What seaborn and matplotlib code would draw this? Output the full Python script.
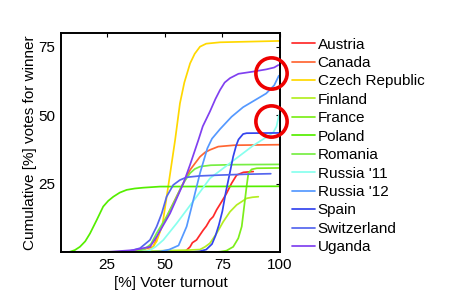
import numpy as np
import pandas as pd
import matplotlib
matplotlib.use("Agg")
import matplotlib.pyplot as plt
import seaborn as sns

# curves: turnout (%) vs cumulative votes for winner (%)
austria_x = [58.5, 59.5, 61, 62, 63.8, 65, 66.7, 68, 69.6, 71, 72.5, 74.7, 76.8, 79, 81.2, 84.1, 88.4]
austria_y = [0, 0.8, 2, 3.5, 4.5, 6, 8.1, 9.5, 11.8, 13, 15.5, 18.5, 21.5, 25.2, 28.2, 29.2, 29.5]

canada_x = [5, 33, 37.8, 45, 48, 52.3, 57.3, 61, 65.3, 67.5, 69.6, 73.2, 80, 100]
canada_y = [0, 0, 0.5, 2, 8, 15.5, 24, 30.1, 34.9, 36.5, 37.4, 38.6, 39.1, 39.3]

czech_x = [5, 40, 44, 46.5, 49, 51.5, 54.5, 56.6, 58.5, 61, 63, 65.3, 68, 74, 100]
czech_y = [0, 0, 1, 4, 10, 24, 41, 54.4, 62, 69, 72.5, 75.1, 76.2, 76.7, 77.2]

finland_x = [5, 40, 50, 60, 65.3, 67.5, 69.6, 72.5, 75.4, 78.3, 81.2, 83.4, 85.5, 88, 90.6]
finland_y = [0, 0.3, 0.6, 0.8, 1, 2, 3.3, 6.9, 11.2, 14.8, 17.3, 18.5, 19.7, 20.1, 20.3]

france_x = [5, 70, 74, 76.8, 79.7, 81.9, 83.4, 84.1, 84.8, 85.5, 86.3, 87.7, 90, 100]
france_y = [0, 0, 0.2, 0.6, 2, 5.1, 9.4, 14.2, 19.1, 24, 28.9, 30.3, 30.7, 30.8]

poland_x = [5, 7, 8.9, 11, 13.2, 15.5, 17.6, 20.5, 23.3, 25.5, 27.7, 30.5, 33.5, 37, 40.7, 48, 100]
poland_y = [0, 0, 0.2, 0.8, 2, 4, 6.9, 11.8, 16.7, 18.8, 20.3, 21.8, 22.8, 23.3, 23.6, 24, 24.1]

romania_x = [5, 36, 41, 44, 46.5, 50.8, 54.5, 58, 61, 63, 65.3, 70, 80, 100]
romania_y = [0, 0, 1, 3, 7, 13, 19.1, 25.2, 28.9, 30.4, 31.3, 31.8, 32, 32.1]

russia11_x = [5, 38, 43, 46, 49.4, 55.2, 63.8, 69.6, 79, 88.4, 94, 97.1, 98.5, 99.5]
russia11_y = [0, 0, 0.5, 2, 4.5, 10.6, 20.3, 27, 33, 39, 42, 43.8, 46, 50]

russia12_x = [5, 40, 48, 52, 56, 59.5, 61.7, 65.3, 68.5, 70.5, 74, 79, 84, 89, 94, 97.5, 99.5]
russia12_y = [0, 0, 0.3, 1, 2.5, 9.4, 16.7, 28.9, 38, 41.5, 45, 49.5, 53, 55.5, 58, 61, 64.5]

spain_x = [5, 60, 65, 68, 70.5, 72, 73.5, 75, 76.5, 78, 79.7, 81, 82, 84, 85.5, 100]
spain_y = [0, 0, 0.3, 1, 3, 6, 10, 15, 22, 28, 35, 39, 41.2, 43.2, 43.5, 43.6]

switz_x = [5, 30, 34, 39.3, 43.6, 46.5, 48.7, 50.8, 53.7, 56.6, 59.5, 65.3, 74, 85, 96]
switz_y = [0, 0, 0.3, 1.5, 4.5, 9.4, 14.2, 20.3, 24.6, 26.4, 27.4, 27.9, 28.2, 28.5, 28.7]

uganda_x = [5, 26.3, 36.4, 43.6, 46.5, 52.3, 58.1, 61, 64.6, 66.5, 69.6, 72, 74, 76, 78.3, 82,
            88.4, 94, 97.5, 99.3]
uganda_y = [0, 0.2, 0.8, 2, 5.7, 14.2, 25.2, 32, 41, 46, 51.4, 56, 59.3, 62, 63.6, 65.2,
            66, 66.8, 67.5, 68.4]

countries = ["Austria", "Canada", "Czech Republic", "Finland", "France", "Poland",
             "Romania", "Russia '11", "Russia '12", "Spain", "Switzerland", "Uganda"]
colors = ["#FF2A2A", "#FF6633", "#FFD800", "#B4EE22", "#7CEE1A", "#55EE00",
          "#77EE44", "#88FFEE", "#5599FF", "#3344EE", "#5566EE", "#8040F0"]

# highlighted end points
circle_x = [96, 96]
circle_y = [65.5, 47.8]

series = [(austria_x, austria_y), (canada_x, canada_y), (czech_x, czech_y),
          (finland_x, finland_y), (france_x, france_y), (poland_x, poland_y),
          (romania_x, romania_y), (russia11_x, russia11_y), (russia12_x, russia12_y),
          (spain_x, spain_y), (switz_x, switz_y), (uganda_x, uganda_y)]

frames = []
for name, (xs, ys) in zip(countries, series):
    frames.append(pd.DataFrame({"turnout": xs, "votes": ys, "country": name,
                                "order": np.arange(len(xs))}))
df = pd.concat(frames, ignore_index=True)

sns.set_style("white")
plt.rcParams.update({
    "font.family": ["Liberation Sans", "DejaVu Sans"],
    "font.size": 11,
    "text.color": "black",
    "axes.labelcolor": "black",
    "xtick.color": "black",
    "ytick.color": "black",
})

fig = plt.figure(figsize=(4.74, 2.98), dpi=100)
ax = fig.add_axes([0.1287, 0.1534, 0.462, 0.735])

sns.lineplot(data=df, x="turnout", y="votes", hue="country", hue_order=countries,
             palette=dict(zip(countries, colors)), sort=False, estimator=None,
             units="country", linewidth=1.25, ax=ax)

ax.plot(circle_x, circle_y, ls="none", marker="o", markersize=22.5,
        markerfacecolor="none", markeredgecolor="#EE0000", markeredgewidth=2.6,
        clip_on=False, zorder=5)

ax.set_xlim(5, 100)
ax.set_ylim(0, 80)
ax.set_xticks([25, 50, 75, 100])
ax.set_yticks([25, 50, 75])
ax.set_xlabel("[%] Voter turnout", fontsize=11, labelpad=3)
ax.set_ylabel("Cumulative [%] votes for winner", fontsize=11, labelpad=1)
ax.tick_params(direction="in", length=3, width=0.8, labelsize=11, pad=4,
               top=True, right=True)
for s in ax.spines.values():
    s.set_color("black")
    s.set_linewidth(1.4)

sns.move_legend(ax, "upper left", bbox_to_anchor=(0.617, 0.874),
                bbox_transform=fig.transFigure, frameon=False, title=None,
                fontsize=11, handlelength=1.45, handletextpad=0.2,
                labelspacing=0.29, borderpad=0, borderaxespad=0)

fig.savefig("out.png", dpi=100)
